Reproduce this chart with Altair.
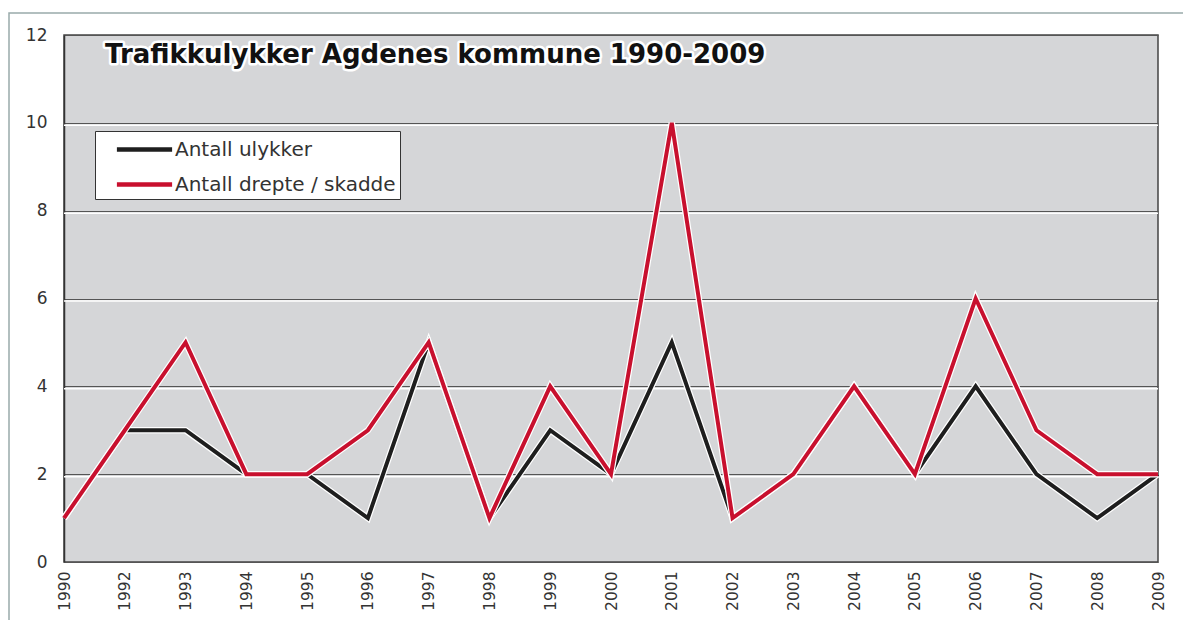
import altair as alt
import pandas as pd

years = ["1990", "1992", "1993", "1994", "1995", "1996", "1997", "1998", "1999", "2000",
         "2001", "2002", "2003", "2004", "2005", "2006", "2007", "2008", "2009"]
ulykker = [1, 3, 3, 2, 2, 1, 5, 1, 3, 2, 5, 1, 2, 4, 2, 4, 2, 1, 2]
drepte = [1, 3, 5, 2, 2, 3, 5, 1, 4, 2, 10, 1, 2, 4, 2, 6, 3, 2, 2]
series_names = ["Antall ulykker", "Antall drepte / skadde"]
series_colors = ["#1e1e1e", "#c8102e"]
grid_values = [2, 4, 6, 8, 10]
title_text = "Trafikkulykker Agdenes kommune 1990-2009"

rows = []
for y, v in zip(years, ulykker):
    rows.append({"year": y, "value": v, "serie": series_names[0]})
for y, v in zip(years, drepte):
    rows.append({"year": y, "value": v, "serie": series_names[1]})
df = pd.DataFrame(rows)

W, H = 1094, 527

x_enc = alt.X("year:O", sort=years, scale=alt.Scale(type="point", padding=0),
              axis=alt.Axis(title=None, labelAngle=270, labelFont="DejaVu Sans", labelFontSize=15.5,
                            labelColor="#333", labelPadding=9, ticks=False, domain=False, grid=False))
y_enc = alt.Y("value:Q", scale=alt.Scale(domain=[0, 12], nice=False),
              axis=alt.Axis(title=None, values=[0, 2, 4, 6, 8, 10, 12], labelFont="DejaVu Sans",
                            labelFontSize=17, labelColor="#333", labelPadding=17, ticks=False,
                            domainColor="#333", domainWidth=1.5, gridColor="#555", gridWidth=1.2))

color_enc = alt.Color("serie:N", scale=alt.Scale(domain=series_names, range=series_colors),
                      legend=alt.Legend(orient="none", legendX=31, legendY=96, title=None,
                                        fillColor="white", strokeColor="#333", padding=4,
                                        symbolType="M-2.3,0H2.3", symbolSize=576, symbolStrokeWidth=4.5,
                                        symbolOffset=31, labelFont="DejaVu Sans", labelFontSize=20,
                                        labelColor="#333", labelOffset=16, rowPadding=10,
                                        labelLimit=400))

base = alt.Chart(df)

grid_white = alt.Chart(pd.DataFrame({"g": grid_values})).mark_rule(
    color="white", strokeWidth=1.5, yOffset=2.5).encode(y=alt.Y("g:Q", scale=alt.Scale(domain=[0, 12])))

layers = [grid_white]
for name in series_names:
    sub = base.transform_filter(alt.datum.serie == name)
    layers.append(sub.mark_line(color="white", strokeWidth=6.5, strokeJoin="miter").encode(x=x_enc, y=y_enc))
    layers.append(sub.mark_line(strokeWidth=4, strokeJoin="miter").encode(x=x_enc, y=y_enc, color=color_enc))

title_df = pd.DataFrame({"t": [title_text]})
title_halo = alt.Chart(title_df).mark_text(
    align="left", baseline="alphabetic", font="DejaVu Sans", fontWeight="bold", fontSize=26,
    color="white", stroke="white", strokeWidth=5, strokeJoin="round"
).encode(text="t:N", x=alt.value(41), y=alt.value(28))
title_txt = alt.Chart(title_df).mark_text(
    align="left", baseline="alphabetic", font="DejaVu Sans", fontWeight="bold", fontSize=26,
    color="#111"
).encode(text="t:N", x=alt.value(41), y=alt.value(28))

frame = alt.Chart(title_df).mark_rect(filled=False, stroke="#9aa", strokeWidth=1.5).encode(
    x=alt.value(-55), x2=alt.value(1124), y=alt.value(-22), y2=alt.value(592))

chart = alt.layer(frame, *layers, title_halo, title_txt).properties(
    width=W, height=H,
    autosize=alt.AutoSizeParams(type="none"),
    padding={"left": 56, "top": 27, "right": 25, "bottom": 58},
    background="white",
).configure_view(fill="#d5d6d8", stroke="#444", strokeWidth=1.5)

chart.save("out.html", embed_options={"renderer": "svg", "actions": False})
